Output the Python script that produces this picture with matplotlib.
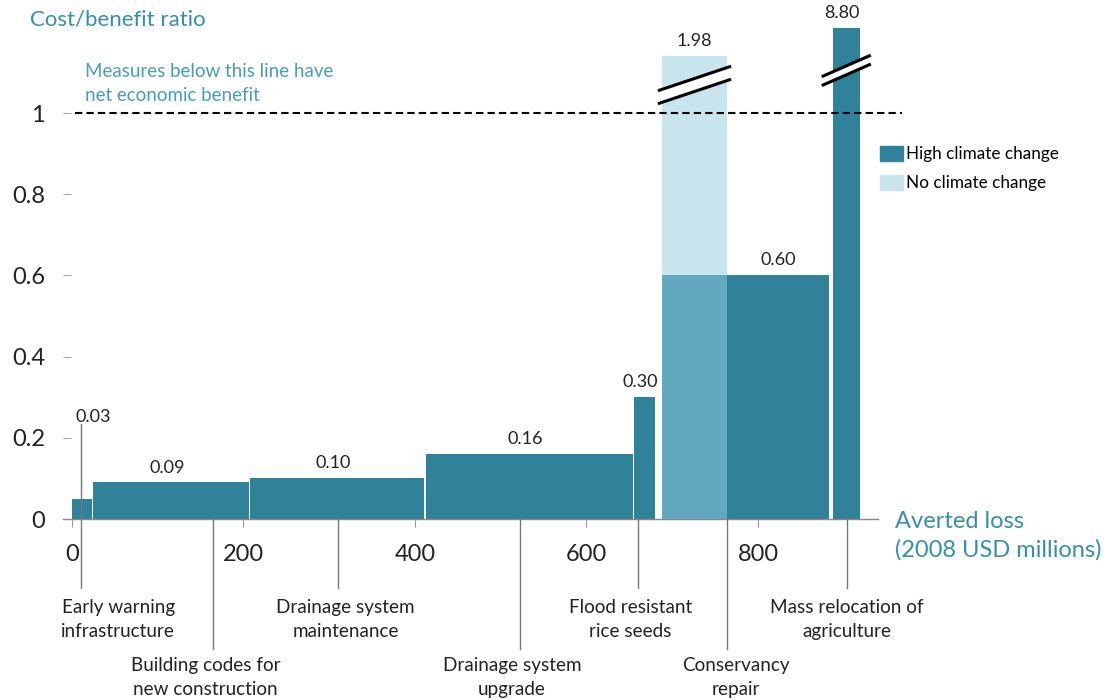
import matplotlib.pyplot as plt
from matplotlib.patches import Patch, Polygon

plt.rcParams['font.family'] = ['Lato', 'DejaVu Sans']

# averted loss (2008 USD millions): start and width of each measure
measures = ['Early warning\ninfrastructure', 'Building codes for\nnew construction',
            'Drainage system\nmaintenance', 'Drainage system\nupgrade',
            'Flood resistant\nrice seeds', 'Conservancy\nrepair',
            'Mass relocation of\nagriculture']
loss_start = [0, 25, 208, 413, 656, 688, 887]
loss_width = [23, 181, 203, 241, 24, 195, 32]
# drawn bar heights (values above the break are cut at the top of the chart)
high_cc = [0.05, 0.09, 0.10, 0.16, 0.30, 0.60, 1.21]
high_labels = ['0.03', '0.09', '0.10', '0.16', '0.30', '0.60', '8.80']
# conservancy repair without climate change
no_cc_start = 688
no_cc_width = 76
no_cc = 1.14
no_cc_label = '1.98'

DARK = '#2f8299'
LIGHT = '#c8e4ec'
MID = '#62a8be'
TEAL = '#3a8ea5'

# layout of the measure names under the axis
name_x = [54, 156, 319, 513, 651, 774, 904]
leader_x = [10.5, 164, 310, 522, 660, 764, 904]
name_row = [0, 1, 0, 1, 0, 1, 0]


def draw_break(ax, xc, yc, half_w, rise, gap):
    x0, x1 = xc - half_w, xc + half_w
    y0, y1 = yc - rise / 2, yc + rise / 2
    poly = Polygon([(x0, y0), (x1, y1), (x1, y1 - gap), (x0, y0 - gap)],
                   closed=True, facecolor='white', edgecolor='none',
                   zorder=5, clip_on=False)
    ax.add_patch(poly)
    ax.plot([x0, x1], [y0, y1], color='black', lw=2.2, zorder=6, clip_on=False)
    ax.plot([x0, x1], [y0 - gap, y1 - gap], color='black', lw=2.2, zorder=6,
            clip_on=False)


fig = plt.figure(figsize=(11.15, 7), dpi=100)
ax = fig.add_axes([63 / 1115, 181 / 700, 815 / 1115, 519 / 700])
ax.set_xlim(-10.5, 940)
ax.set_ylim(0, 519 / 406)

# bars
ax.bar(no_cc_start, no_cc, width=no_cc_width, align='edge', color=LIGHT, zorder=1)
ax.bar(loss_start, high_cc, width=loss_width, align='edge', color=DARK, zorder=2)
i = measures.index('Conservancy\nrepair')
ax.bar(no_cc_start, min(high_cc[i], no_cc), width=no_cc_width, align='edge',
       color=MID, zorder=3)

# value labels
for k, (s, w, h, lab) in enumerate(zip(loss_start, loss_width, high_cc, high_labels)):
    if k == 0:
        ax.text(24.5, 0.251, lab, ha='center', va='center', fontsize=13,
                color='#222222')
        continue
    xc = s + w / 2 - 5
    if k == i:
        xc = (no_cc_start + no_cc_width + s + w) / 2
    ax.annotate(lab, (xc, h), xytext=(0, 5), textcoords='offset points',
                ha='center', va='bottom', fontsize=13, color='#222222',
                annotation_clip=False)
ax.annotate(no_cc_label, (no_cc_start + no_cc_width / 2, no_cc), xytext=(0, 5),
            textcoords='offset points', ha='center', va='bottom', fontsize=13,
            color='#222222', annotation_clip=False)

# axis breaks
draw_break(ax, 726, 1.085, 41, 0.058, 0.032)
draw_break(ax, 903, 1.116, 27, 0.05, 0.022)

# break-even line
ax.plot([3.5, 968], [1, 1], color='black', lw=1.5, ls=(0, (3.5, 2)),
        zorder=4, clip_on=False)

# measure names with leader lines
for name, nx, lx, row in zip(measures, name_x, leader_x, name_row):
    top = 0.235 if row == 0 and lx < 20 else 0
    bottom = -0.17 if row == 0 else -0.32
    ax.plot([lx, lx], [top, bottom], color='#777777', lw=1, zorder=3,
            clip_on=False)
    ax.text(nx, -0.198 if row == 0 else -0.34, name, ha='center', va='top',
            fontsize=13.6, color='#222222', linespacing=1.5, clip_on=False)

for sp in ['top', 'right', 'left']:
    ax.spines[sp].set_visible(False)
ax.spines['bottom'].set_color('#888888')
ax.spines['bottom'].set_linewidth(1)

ax.set_xticks([0, 200, 400, 600, 800])
ax.set_yticks([0, 0.2, 0.4, 0.6, 0.8, 1])
ax.set_yticklabels(['0', '0.2', '0.4', '0.6', '0.8', '1'])
ax.tick_params(axis='x', direction='out', length=6, color='#999999',
               labelsize=17, pad=12, labelcolor='#222222')
ax.tick_params(axis='y', direction='in', length=6, color='#aaaaaa',
               labelsize=17, pad=13, labelcolor='#222222')

# texts
fig.text(30 / 1115, 1 - 20 / 700, 'Cost/benefit ratio', fontsize=16,
         color=TEAL, va='center')
fig.text(85 / 1115, 1 - 63 / 700, 'Measures below this line have\nnet economic benefit',
         fontsize=13.5, color='#4b9cb2', va='top', linespacing=1.5)
fig.text(895 / 1115, 1 - 511 / 700, 'Averted loss\n(2008 USD millions)',
         fontsize=17, color=TEAL, va='top', linespacing=1.4)

handles = [Patch(color=DARK, label='High climate change'),
           Patch(color=LIGHT, label='No climate change')]
fig.legend(handles=handles, loc='upper left', bbox_to_anchor=(880 / 1115, 1 - 146 / 700),
           frameon=False, fontsize=12.3, handlelength=1.35, handleheight=0.95,
           handletextpad=0.2, labelspacing=0.75, borderpad=0, borderaxespad=0)

fig.savefig('out.png', dpi=100)
